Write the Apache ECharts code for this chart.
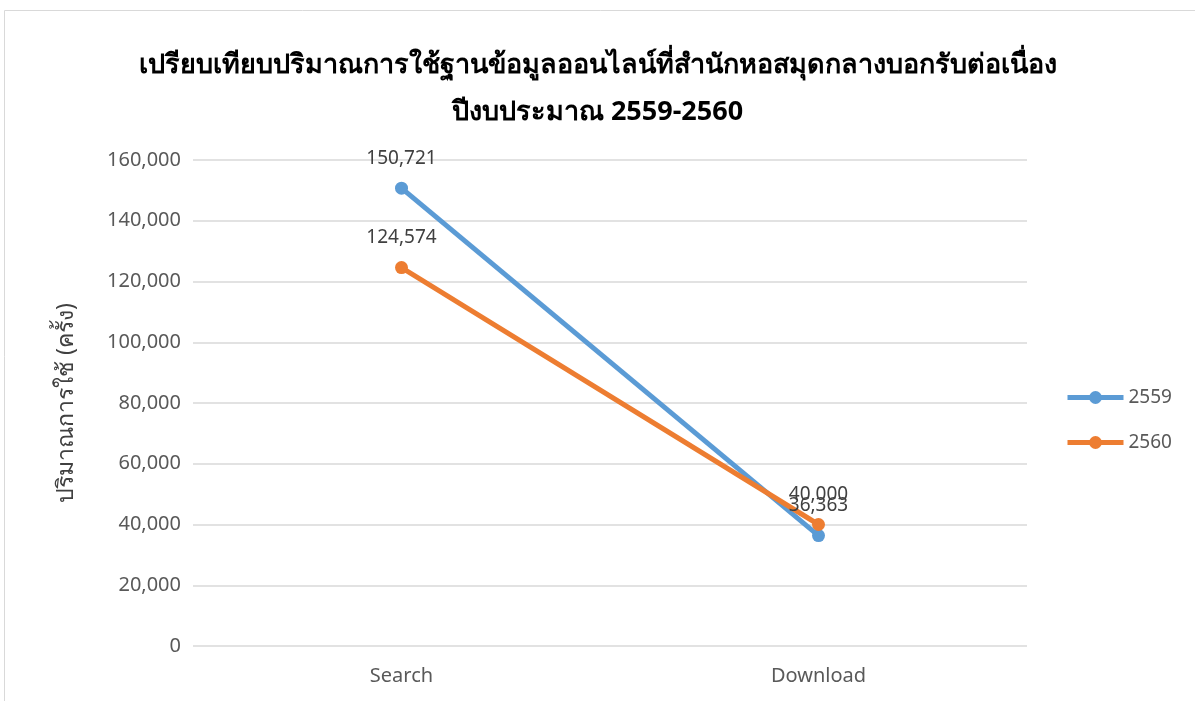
<!DOCTYPE html>
<html>
<head>
<meta charset="utf-8">
<script src="https://cdn.jsdelivr.net/npm/echarts@6/dist/echarts.min.js"></script>
<style>
  html, body { margin: 0; padding: 0; background: #fff; }
  #main { width: 1195px; height: 701px; }
</style>
</head>
<body>
<div id="main"></div>
<script>
  // data
  const categories = ['Search', 'Download'];
  const seriesNames = ['2559', '2560'];
  const values2559 = [150721, 36363];
  const values2560 = [124574, 40000];
  const yTicks = { min: 0, max: 160000, interval: 20000 };

  const titleText = 'เปรียบเทียบปริมาณการใช้ฐานข้อมูลออนไลน์ที่สำนักหอสมุดกลางบอกรับต่อเนื่อง\nปีงบประมาณ 2559-2560';
  const yName = 'ปริมาณการใช้ (ครั้ง)';
  const colors = ['#5B9BD5', '#ED7D31'];
  const font = '"Noto Sans", "DejaVu Sans", sans-serif';

  const chart = echarts.init(document.getElementById('main'));

  const fmt = v => v.toLocaleString('en-US');

  function makeSeries(name, data, color) {
    return {
      name: name,
      type: 'line',
      data: data,
      symbol: 'circle',
      symbolSize: 13,
      lineStyle: { width: 5, color: color },
      itemStyle: { color: color },
      label: {
        show: true,
        position: 'top',
        distance: 14,
        color: '#404040',
        fontSize: 19,
        fontFamily: font,
        formatter: p => fmt(p.value)
      },
      emphasis: { disabled: true }
    };
  }

  chart.setOption({
    animation: false,
    color: colors,
    graphic: [{
      type: 'rect',
      shape: { x: 4.5, y: 10.5, width: 1200, height: 700 },
      style: { fill: 'none', stroke: '#d9d9d9', lineWidth: 1 },
      silent: true
    }],
    title: {
      text: titleText,
      left: 'center',
      top: 37,
      textStyle: {
        fontFamily: font,
        fontSize: 27,
        fontWeight: 'bold',
        color: '#000',
        lineHeight: 47
      }
    },
    legend: {
      orient: 'vertical',
      left: 1060,
      top: 383,
      itemGap: 26,
      itemWidth: 56,
      itemHeight: 16,
      lineStyle: { width: 5 },
      textStyle: { fontFamily: font, fontSize: 19, color: '#595959' },
      data: seriesNames
    },
    grid: {
      left: 193,
      right: 168,
      top: 160,
      bottom: 55,
      containLabel: false
    },
    xAxis: {
      type: 'category',
      data: categories,
      boundaryGap: true,
      axisLine: { show: false },
      axisTick: { show: false },
      axisLabel: { fontFamily: font, fontSize: 20, color: '#595959', margin: 20 }
    },
    yAxis: {
      type: 'value',
      min: yTicks.min,
      max: yTicks.max,
      interval: yTicks.interval,
      name: yName,
      nameLocation: 'middle',
      nameGap: 115,
      nameTextStyle: { fontFamily: font, fontSize: 23, color: '#404040' },
      axisLine: { show: false },
      axisTick: { show: false },
      axisLabel: { fontFamily: font, fontSize: 20, color: '#595959', margin: 12, formatter: v => fmt(v) },
      splitLine: { lineStyle: { color: '#d9d9d9', width: 1.5 } }
    },
    series: [
      makeSeries(seriesNames[0], values2559, colors[0]),
      makeSeries(seriesNames[1], values2560, colors[1])
    ]
  });
</script>
</body>
</html>
